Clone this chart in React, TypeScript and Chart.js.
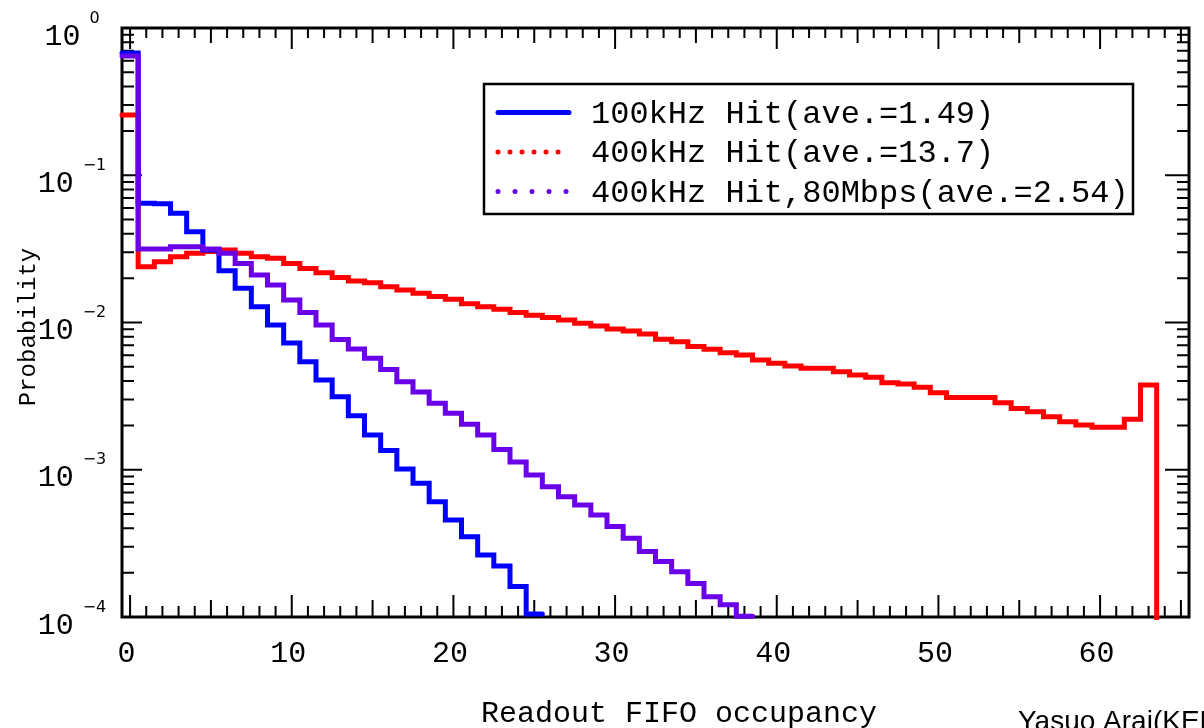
import { useEffect, useRef } from "react";
import { Chart, registerables } from "chart.js";

Chart.register(...registerables);

// Probability per readout-FIFO occupancy bin (bin index = occupancy 0,1,2,...)
const HIT_100KHZ = [
  0.676, 0.0645, 0.064, 0.0551, 0.0414, 0.0311, 0.0225, 0.0171, 0.0128, 0.0096,
  0.00726, 0.00542, 0.00407, 0.00313, 0.00233, 0.00172, 0.00135, 0.00101, 0.000809,
  0.000607, 0.000456, 0.000351, 0.000264, 0.000222, 0.000161, 0.000105,
];

const HIT_400KHZ = [
  0.257, 0.0239, 0.0259, 0.028, 0.0295, 0.0303, 0.0311, 0.0295, 0.028, 0.0273,
  0.0252, 0.0233, 0.0218, 0.0202, 0.0191, 0.0186, 0.0175, 0.0166, 0.0158, 0.015,
  0.0144, 0.0134, 0.0128, 0.0123, 0.0117, 0.0112, 0.0108, 0.0104, 0.00987, 0.00947,
  0.00904, 0.00876, 0.00836, 0.00769, 0.00741, 0.00686, 0.00658, 0.00624, 0.00602,
  0.00556, 0.00528, 0.00507, 0.00489, 0.00489, 0.00463, 0.0044, 0.00424, 0.0039,
  0.00382, 0.00363, 0.00334, 0.00309, 0.00309, 0.00309, 0.00285, 0.00261, 0.00248,
  0.00229, 0.00212, 0.00201, 0.00194, 0.00194, 0.0022, 0.00376,
];

const HIT_400KHZ_80MBPS = [
  0.645, 0.0316, 0.0316, 0.0327, 0.0327, 0.0316, 0.0295, 0.0252, 0.021, 0.018,
  0.0142, 0.0117, 0.00962, 0.00768, 0.0066, 0.00571, 0.0048, 0.00396, 0.00337,
  0.00283, 0.00242, 0.00204, 0.00172, 0.00137, 0.00113, 0.00092, 0.000767, 0.000656,
  0.000576, 0.000493, 0.000411, 0.000342, 0.000278, 0.000238, 0.000203, 0.000169,
  0.000137, 0.000121, 0.000101,
];

// value used for an empty bin (lies below the axis minimum)
const EMPTY_BIN = 1e-6;

const SERIES_LABELS = [
  "100kHz Hit(ave.=1.49)",
  "400kHz Hit(ave.=13.7)",
  "400kHz Hit,80Mbps(ave.=2.54)",
];
const SERIES_COLORS = ["#0000ff", "#ff0000", "#6a00e8"];
const LEGEND_DASH = [[], [0.01, 12], [0.01, 17]];

const X_TICK_LABELS = [0, 10, 20, 30, 40, 50, 60];
const Y_DECADES = [0, -1, -2, -3, -4];
const X_MIN = -0.5;
const X_MAX = 65.5;
const Y_MIN = 1e-4;
const Y_MAX = 1;

const X_TITLE = "Readout FIFO occupancy";
const Y_TITLE = "Probability";
const CREDIT = "Yasuo Arai(KEK)";

const MONO = '"Liberation Mono", "DejaVu Sans Mono", monospace';

function histPoints(values: number[], tail?: number) {
  const pts = values.map((v, i) => ({ x: i - 0.5, y: v }));
  pts.push({ x: values.length - 0.5, y: tail ?? values[values.length - 1] });
  return pts;
}

const framePlugin = {
  id: "frameTicks",
  beforeDatasetsDraw(chart: any) {
    const { ctx, chartArea: a } = chart;
    const xs = chart.scales.x;
    const ys = chart.scales.y;
    ctx.save();
    ctx.strokeStyle = "#000";
    ctx.lineWidth = 2;
    ctx.beginPath();
    for (let v = Math.ceil(X_MIN); v <= Math.floor(X_MAX); v++) {
      const px = xs.getPixelForValue(v);
      const lb = v % 10 === 0 ? 22 : v % 5 === 0 ? 17 : 11;
      const lt = v % 10 === 0 ? 21 : v % 5 === 0 ? 15 : 10;
      ctx.moveTo(px, a.bottom);
      ctx.lineTo(px, a.bottom - lb);
      ctx.moveTo(px, a.top);
      ctx.lineTo(px, a.top + lt);
    }
    for (const d of Y_DECADES) {
      const base = Math.pow(10, d);
      const py = ys.getPixelForValue(base);
      ctx.moveTo(a.left, py);
      ctx.lineTo(a.left + 20, py);
      ctx.moveTo(a.right, py);
      ctx.lineTo(a.right - 24, py);
      if (d < 0) {
        for (let m = 2; m <= 9; m++) {
          const pm = ys.getPixelForValue(m * base);
          ctx.moveTo(a.left, pm);
          ctx.lineTo(a.left + 12, pm);
          ctx.moveTo(a.right, pm);
          ctx.lineTo(a.right - 12, pm);
        }
      }
    }
    ctx.stroke();
    ctx.lineWidth = 3;
    ctx.strokeRect(a.left, a.top, a.right - a.left, a.bottom - a.top);
    ctx.restore();
  },
  afterDraw(chart: any) {
    const { ctx } = chart;
    const xs = chart.scales.x;
    const ys = chart.scales.y;
    ctx.save();
    ctx.fillStyle = "#000";
    ctx.textBaseline = "alphabetic";

    // x tick labels
    ctx.font = `30px ${MONO}`;
    ctx.textAlign = "center";
    for (const v of X_TICK_LABELS) {
      ctx.fillText(String(v), xs.getPixelForValue(v) - 3.5, 662);
    }
    // x title
    ctx.font = `30px ${MONO}`;
    ctx.fillText(X_TITLE, 679, 722);

    // y tick labels 10^n
    ctx.textAlign = "left";
    for (const d of Y_DECADES) {
      const py = ys.getPixelForValue(Math.pow(10, d));
      ctx.font = `30px ${MONO}`;
      const w10 = ctx.measureText("10").width;
      const exp = d === 0 ? "0" : "\u2212" + Math.abs(d);
      ctx.font = '16px "DejaVu Sans", sans-serif';
      const we = ctx.measureText(exp).width;
      const total = w10 + 9 + we;
      const x0 = 72 - total / 2;
      ctx.font = `30px ${MONO}`;
      ctx.fillText("10", x0, py + 16.5);
      ctx.font = '16px "DejaVu Sans", sans-serif';
      ctx.fillText(exp, x0 + w10 + 9, py - 5.5);
    }

    // y title
    ctx.save();
    ctx.translate(35, 327);
    ctx.rotate(-Math.PI / 2);
    ctx.textAlign = "center";
    ctx.font = `24px ${MONO}`;
    ctx.fillText(Y_TITLE, 0, 0);
    ctx.restore();

    // credit
    ctx.textAlign = "left";
    ctx.font = '28px "Liberation Sans", Arial, sans-serif';
    ctx.fillText(CREDIT, 1018, 730);

    // legend
    ctx.lineWidth = 2.5;
    ctx.strokeStyle = "#000";
    ctx.strokeRect(484, 84, 649, 130);
    const datasets = chart.data.datasets;
    datasets.forEach((ds: any, i: number) => {
      const cy = 112.5 + i * 39.5;
      ctx.save();
      ctx.strokeStyle = ds.borderColor;
      ctx.lineWidth = 5;
      ctx.lineCap = "round";
      ctx.setLineDash(LEGEND_DASH[i] || []);
      ctx.beginPath();
      ctx.moveTo(498, cy);
      ctx.lineTo(i === 1 ? 560 : 569, cy);
      ctx.stroke();
      ctx.restore();
      ctx.font = `32px ${MONO}`;
      ctx.fillStyle = "#000";
      ctx.fillText(ds.label, 591, cy + 10);
    });
    ctx.restore();
  },
};

export default function App() {
  const canvasRef = useRef<HTMLCanvasElement | null>(null);

  useEffect(() => {
    const canvas = canvasRef.current;
    if (!canvas) return;
    const common = {
      stepped: "before" as const,
      pointRadius: 0,
      borderWidth: 5,
      borderCapStyle: "round" as const,
      borderJoinStyle: "miter" as const,
      fill: false,
      clip: 3,
    };
    const chart = new Chart(canvas, {
      type: "line",
      data: {
        datasets: [
          {
            ...common,
            label: SERIES_LABELS[0],
            data: histPoints(HIT_100KHZ),
            borderColor: SERIES_COLORS[0],
            order: 1,
          },
          {
            ...common,
            label: SERIES_LABELS[1],
            data: histPoints(HIT_400KHZ, EMPTY_BIN),
            borderColor: SERIES_COLORS[1],
            order: 2,
          },
          {
            ...common,
            label: SERIES_LABELS[2],
            data: histPoints(HIT_400KHZ_80MBPS),
            borderColor: SERIES_COLORS[2],
            order: 0,
          },
        ],
      },
      options: {
        animation: false,
        responsive: false,
        devicePixelRatio: 1,
        layout: { padding: { left: 122, top: 28, right: 15, bottom: 111 } },
        plugins: { legend: { display: false }, tooltip: { enabled: false } },
        events: [],
        scales: {
          x: { type: "linear", min: X_MIN, max: X_MAX, display: false },
          y: { type: "logarithmic", min: Y_MIN, max: Y_MAX, display: false },
        },
      },
      plugins: [framePlugin],
    });
    return () => chart.destroy();
  }, []);

  return (
    <div style={{ position: "absolute", left: 0, top: 0, width: 1204, height: 728, background: "#fff" }}>
      <canvas ref={canvasRef} width={1204} height={728} style={{ display: "block" }} />
    </div>
  );
}
